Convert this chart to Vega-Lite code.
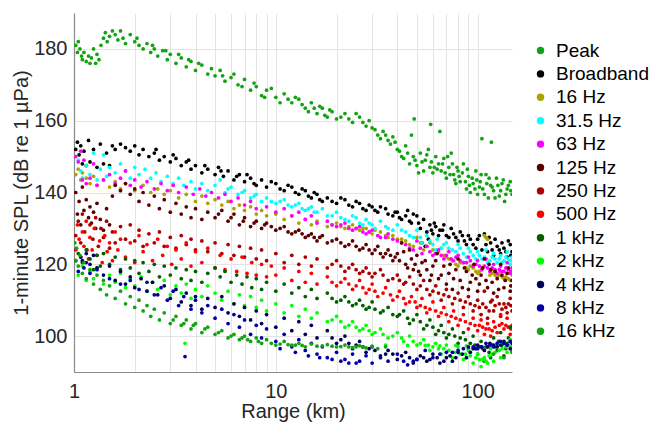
{
"$schema":"https://vega.github.io/schema/vega-lite/v6.json",
"width":438,"height":359,
"autosize":{"type":"none"},
"padding":{"left":74,"top":13,"right":145,"bottom":50},
"background":"white",
"config":{"view":{"stroke":null},"font":"Liberation Sans"},
"data":{"values":[
{"s":"Peak","r":1.02,"v":181},{"s":"Peak","r":1.04,"v":179},{"s":"Peak","r":1.05,"v":182},{"s":"Peak","r":1.07,"v":180},{"s":"Peak","r":1.09,"v":178},{"s":"Peak","r":1.1,"v":177},{"s":"Peak","r":1.12,"v":179},{"s":"Peak","r":1.15,"v":176.5},{"s":"Peak","r":1.18,"v":178},{"s":"Peak","r":1.2,"v":176},{"s":"Peak","r":1.22,"v":177.5},{"s":"Peak","r":1.25,"v":180},{"s":"Peak","r":1.28,"v":176},{"s":"Peak","r":1.3,"v":178.5},{"s":"Peak","r":1.33,"v":177},{"s":"Peak","r":1.36,"v":181},{"s":"Peak","r":1.4,"v":183},{"s":"Peak","r":1.43,"v":184.5},{"s":"Peak","r":1.46,"v":182},{"s":"Peak","r":1.5,"v":183.5},{"s":"Peak","r":1.55,"v":185},{"s":"Peak","r":1.6,"v":184},{"s":"Peak","r":1.65,"v":182.5},{"s":"Peak","r":1.7,"v":185},{"s":"Peak","r":1.75,"v":183},{"s":"Peak","r":1.8,"v":181.5},{"s":"Peak","r":1.9,"v":184},{"s":"Peak","r":2.0,"v":182},{"s":"Peak","r":2.1,"v":181},{"s":"Peak","r":2.2,"v":180},{"s":"Peak","r":2.3,"v":181.5},{"s":"Peak","r":2.4,"v":179},{"s":"Peak","r":2.5,"v":180},{"s":"Peak","r":2.6,"v":178},{"s":"Peak","r":2.75,"v":179.5},{"s":"Peak","r":2.9,"v":177},{"s":"Peak","r":3.0,"v":178.5},{"s":"Peak","r":3.2,"v":176},{"s":"Peak","r":3.4,"v":177.5},{"s":"Peak","r":3.6,"v":175},{"s":"Peak","r":3.8,"v":176.5},{"s":"Peak","r":4.0,"v":174},{"s":"Peak","r":4.3,"v":175.5},{"s":"Peak","r":4.6,"v":173},{"s":"Peak","r":5.0,"v":172.5},{"s":"Peak","r":5.3,"v":174},{"s":"Peak","r":5.6,"v":171},{"s":"Peak","r":6.0,"v":172},{"s":"Peak","r":6.5,"v":170},{"s":"Peak","r":7.0,"v":171.5},{"s":"Peak","r":7.5,"v":168.5},{"s":"Peak","r":8.0,"v":169.5},{"s":"Peak","r":8.5,"v":167},{"s":"Peak","r":9.0,"v":168.5},{"s":"Peak","r":10,"v":166.5},{"s":"Peak","r":11,"v":167.5},{"s":"Peak","r":12,"v":165},{"s":"Peak","r":13,"v":166},{"s":"Peak","r":14,"v":163.5},{"s":"Peak","r":15,"v":165},{"s":"Peak","r":16,"v":162},{"s":"Peak","r":17,"v":163.5},{"s":"Peak","r":18,"v":161},{"s":"Peak","r":19,"v":162.5},{"s":"Peak","r":20,"v":160.5},{"s":"Peak","r":22,"v":162},{"s":"Peak","r":24,"v":159.5},{"s":"Peak","r":26,"v":161},{"s":"Peak","r":28,"v":158.5},{"s":"Peak","r":30,"v":158},{"s":"Peak","r":32,"v":156},{"s":"Peak","r":34,"v":157},{"s":"Peak","r":36,"v":154.5},{"s":"Peak","r":38,"v":155.5},{"s":"Peak","r":40,"v":152},{"s":"Peak","r":42,"v":150},{"s":"Peak","r":44,"v":153},{"s":"Peak","r":46,"v":148},{"s":"Peak","r":47,"v":156},{"s":"Peak","r":48,"v":150},{"s":"Peak","r":48.5,"v":160.5},{"s":"Peak","r":50,"v":147.5},{"s":"Peak","r":52,"v":151},{"s":"Peak","r":54,"v":146},{"s":"Peak","r":55,"v":149},{"s":"Peak","r":57,"v":152},{"s":"Peak","r":58,"v":147},{"s":"Peak","r":58.5,"v":159},{"s":"Peak","r":60,"v":145.5},{"s":"Peak","r":62,"v":150},{"s":"Peak","r":64,"v":148},{"s":"Peak","r":65,"v":157},{"s":"Peak","r":66,"v":146},{"s":"Peak","r":68,"v":149.5},{"s":"Peak","r":70,"v":144},{"s":"Peak","r":72,"v":147},{"s":"Peak","r":74,"v":151},{"s":"Peak","r":76,"v":145},{"s":"Peak","r":78,"v":142.5},{"s":"Peak","r":80,"v":146},{"s":"Peak","r":82,"v":143},{"s":"Peak","r":85,"v":148},{"s":"Peak","r":88,"v":141},{"s":"Peak","r":90,"v":144.5},{"s":"Peak","r":92,"v":140},{"s":"Peak","r":95,"v":142.5},{"s":"Peak","r":98,"v":146},{"s":"Peak","r":100,"v":139.5},{"s":"Peak","r":103,"v":143},{"s":"Peak","r":105,"v":155},{"s":"Peak","r":106,"v":141},{"s":"Peak","r":110,"v":145},{"s":"Peak","r":113,"v":138.5},{"s":"Peak","r":116,"v":142},{"s":"Peak","r":117,"v":154},{"s":"Peak","r":120,"v":140.5},{"s":"Peak","r":124,"v":144},{"s":"Peak","r":128,"v":139},{"s":"Peak","r":132,"v":142.5},{"s":"Peak","r":136,"v":137.5},{"s":"Peak","r":140,"v":141},{"s":"Peak","r":145,"v":143},{"s":"Peak","r":148,"v":139.5},
{"s":"Peak","r":2.05,"v":183},{"s":"Peak","r":2.45,"v":181},{"s":"Peak","r":2.85,"v":179.5},{"s":"Peak","r":3.3,"v":178.5},{"s":"Peak","r":3.7,"v":177},{"s":"Peak","r":4.15,"v":176},{"s":"Peak","r":4.8,"v":174.5},{"s":"Peak","r":5.45,"v":172.5},{"s":"Peak","r":6.2,"v":173},{"s":"Peak","r":6.8,"v":169.5},{"s":"Peak","r":7.8,"v":170.5},{"s":"Peak","r":8.8,"v":166.5},{"s":"Peak","r":9.5,"v":169},{"s":"Peak","r":10.5,"v":165},{"s":"Peak","r":11.5,"v":166},{"s":"Peak","r":12.5,"v":166.5},{"s":"Peak","r":13.5,"v":164.5},{"s":"Peak","r":14.5,"v":162.5},{"s":"Peak","r":15.5,"v":163.5},{"s":"Peak","r":16.5,"v":164},{"s":"Peak","r":17.5,"v":161.5},{"s":"Peak","r":18.5,"v":163},{"s":"Peak","r":21,"v":161},{"s":"Peak","r":23,"v":160.5},{"s":"Peak","r":25,"v":162},{"s":"Peak","r":27,"v":159.5},{"s":"Peak","r":29,"v":160},{"s":"Peak","r":31,"v":157.5},{"s":"Peak","r":33,"v":155},{"s":"Peak","r":35,"v":156},{"s":"Peak","r":37,"v":153.5},{"s":"Peak","r":39,"v":154},{"s":"Peak","r":41,"v":151.5},{"s":"Peak","r":43,"v":149.5},{"s":"Peak","r":45,"v":151},{"s":"Peak","r":49,"v":149},{"s":"Peak","r":51,"v":145.5},{"s":"Peak","r":53,"v":148.5},{"s":"Peak","r":56,"v":150.5},{"s":"Peak","r":59,"v":148.5},{"s":"Peak","r":61,"v":147},{"s":"Peak","r":63,"v":146.5},{"s":"Peak","r":67,"v":148},{"s":"Peak","r":69,"v":145.5},{"s":"Peak","r":71,"v":150},{"s":"Peak","r":73,"v":145},{"s":"Peak","r":75,"v":148},{"s":"Peak","r":77,"v":143.5},{"s":"Peak","r":79,"v":147},{"s":"Peak","r":81,"v":144.5},{"s":"Peak","r":84,"v":145.5},{"s":"Peak","r":87,"v":143},{"s":"Peak","r":89,"v":146.5},{"s":"Peak","r":91,"v":142},{"s":"Peak","r":94,"v":144},{"s":"Peak","r":97,"v":141},{"s":"Peak","r":99,"v":143.5},{"s":"Peak","r":102,"v":141.5},{"s":"Peak","r":104,"v":145},{"s":"Peak","r":108,"v":139.5},{"s":"Peak","r":111,"v":142.5},{"s":"Peak","r":114,"v":144},{"s":"Peak","r":118,"v":141.5},{"s":"Peak","r":122,"v":138.5},{"s":"Peak","r":126,"v":142},{"s":"Peak","r":130,"v":140.5},{"s":"Peak","r":134,"v":143.5},{"s":"Peak","r":138,"v":139.5},{"s":"Peak","r":142,"v":142},{"s":"Peak","r":146,"v":140.5},
{"s":"Broadband","r":1.02,"v":152},{"s":"Broadband","r":1.04,"v":154},{"s":"Broadband","r":1.06,"v":150.5},{"s":"Broadband","r":1.08,"v":153},{"s":"Broadband","r":1.1,"v":148},{"s":"Broadband","r":1.12,"v":151.5},{"s":"Broadband","r":1.15,"v":147.5},{"s":"Broadband","r":1.18,"v":154.5},{"s":"Broadband","r":1.2,"v":148.5},{"s":"Broadband","r":1.25,"v":152},{"s":"Broadband","r":1.3,"v":147},{"s":"Broadband","r":1.35,"v":153.5},{"s":"Broadband","r":1.4,"v":148},{"s":"Broadband","r":1.45,"v":151},{"s":"Broadband","r":1.5,"v":147.5},{"s":"Broadband","r":1.55,"v":153},{"s":"Broadband","r":1.6,"v":152},{"s":"Broadband","r":1.7,"v":153.5},{"s":"Broadband","r":1.8,"v":152.5},{"s":"Broadband","r":1.9,"v":151.5},{"s":"Broadband","r":2.0,"v":153},{"s":"Broadband","r":2.1,"v":150.5},{"s":"Broadband","r":2.2,"v":152},{"s":"Broadband","r":2.35,"v":150},{"s":"Broadband","r":2.5,"v":151},{"s":"Broadband","r":2.65,"v":149},{"s":"Broadband","r":2.8,"v":150},{"s":"Broadband","r":3.0,"v":148.5},{"s":"Broadband","r":3.2,"v":149.5},{"s":"Broadband","r":3.4,"v":147.5},{"s":"Broadband","r":3.6,"v":148.5},{"s":"Broadband","r":3.8,"v":146.5},{"s":"Broadband","r":4.0,"v":147.5},{"s":"Broadband","r":4.3,"v":145.5},{"s":"Broadband","r":4.6,"v":146.5},{"s":"Broadband","r":5.0,"v":145},{"s":"Broadband","r":5.2,"v":147},{"s":"Broadband","r":5.5,"v":144.5},{"s":"Broadband","r":5.8,"v":146},{"s":"Broadband","r":6.2,"v":143.5},{"s":"Broadband","r":6.6,"v":145},{"s":"Broadband","r":7.0,"v":143},{"s":"Broadband","r":7.5,"v":144},{"s":"Broadband","r":8.0,"v":142},{"s":"Broadband","r":8.5,"v":143.5},{"s":"Broadband","r":9.0,"v":141.5},{"s":"Broadband","r":10,"v":142.5},{"s":"Broadband","r":11,"v":140.5},{"s":"Broadband","r":12,"v":141.5},{"s":"Broadband","r":13,"v":139.5},{"s":"Broadband","r":14,"v":140.5},{"s":"Broadband","r":15,"v":138.5},{"s":"Broadband","r":16,"v":139.5},{"s":"Broadband","r":17,"v":137.5},{"s":"Broadband","r":18,"v":138.5},{"s":"Broadband","r":20,"v":137},{"s":"Broadband","r":22,"v":138},{"s":"Broadband","r":24,"v":136},{"s":"Broadband","r":26,"v":137},{"s":"Broadband","r":28,"v":135},{"s":"Broadband","r":30,"v":136},{"s":"Broadband","r":32,"v":134.5},{"s":"Broadband","r":35,"v":135.5},{"s":"Broadband","r":38,"v":133.5},{"s":"Broadband","r":40,"v":134.5},{"s":"Broadband","r":42,"v":132.5},{"s":"Broadband","r":45,"v":135},{"s":"Broadband","r":47,"v":131.5},{"s":"Broadband","r":50,"v":133.5},{"s":"Broadband","r":52,"v":130},{"s":"Broadband","r":53,"v":126},{"s":"Broadband","r":54,"v":132.5},{"s":"Broadband","r":55,"v":125},{"s":"Broadband","r":56,"v":129},{"s":"Broadband","r":57,"v":127},{"s":"Broadband","r":58,"v":131},{"s":"Broadband","r":60,"v":128.5},{"s":"Broadband","r":62,"v":130.5},{"s":"Broadband","r":65,"v":129.5},{"s":"Broadband","r":68,"v":131},{"s":"Broadband","r":70,"v":128},{"s":"Broadband","r":74,"v":130},{"s":"Broadband","r":78,"v":127.5},{"s":"Broadband","r":82,"v":129},{"s":"Broadband","r":86,"v":126.5},{"s":"Broadband","r":90,"v":128},{"s":"Broadband","r":95,"v":125.5},{"s":"Broadband","r":100,"v":127},{"s":"Broadband","r":105,"v":124},{"s":"Broadband","r":108,"v":128.5},{"s":"Broadband","r":112,"v":123.5},{"s":"Broadband","r":116,"v":126},{"s":"Broadband","r":120,"v":122.5},{"s":"Broadband","r":125,"v":125},{"s":"Broadband","r":130,"v":123},{"s":"Broadband","r":135,"v":124.5},{"s":"Broadband","r":140,"v":122},{"s":"Broadband","r":145,"v":125.5},{"s":"Broadband","r":148,"v":123.5},
{"s":"Broadband","r":2.55,"v":152},{"s":"Broadband","r":3.1,"v":150.5},{"s":"Broadband","r":3.7,"v":149},{"s":"Broadband","r":4.45,"v":147.5},{"s":"Broadband","r":5.35,"v":146},{"s":"Broadband","r":6.4,"v":144.5},{"s":"Broadband","r":7.2,"v":145},{"s":"Broadband","r":7.8,"v":142.5},{"s":"Broadband","r":9.5,"v":143},{"s":"Broadband","r":10.5,"v":141},{"s":"Broadband","r":11.5,"v":142},{"s":"Broadband","r":12.5,"v":140},{"s":"Broadband","r":13.5,"v":141},{"s":"Broadband","r":14.5,"v":139},{"s":"Broadband","r":15.5,"v":140},{"s":"Broadband","r":16.5,"v":138},{"s":"Broadband","r":19,"v":137.5},{"s":"Broadband","r":21,"v":138.5},{"s":"Broadband","r":23,"v":136.5},{"s":"Broadband","r":25,"v":137.5},{"s":"Broadband","r":27,"v":135.5},{"s":"Broadband","r":29,"v":136.5},{"s":"Broadband","r":31,"v":135},{"s":"Broadband","r":33,"v":136},{"s":"Broadband","r":36,"v":134},{"s":"Broadband","r":39,"v":134.5},{"s":"Broadband","r":41,"v":133},{"s":"Broadband","r":44,"v":133.5},{"s":"Broadband","r":46,"v":132},{"s":"Broadband","r":48,"v":134},{"s":"Broadband","r":51,"v":131.5},{"s":"Broadband","r":59,"v":129.5},{"s":"Broadband","r":61,"v":131.5},{"s":"Broadband","r":64,"v":128},{"s":"Broadband","r":67,"v":129.5},{"s":"Broadband","r":72,"v":127.5},{"s":"Broadband","r":76,"v":128.5},{"s":"Broadband","r":80,"v":126.5},{"s":"Broadband","r":84,"v":128},{"s":"Broadband","r":88,"v":125.5},{"s":"Broadband","r":92,"v":127},{"s":"Broadband","r":98,"v":124.5},{"s":"Broadband","r":102,"v":128},{"s":"Broadband","r":110,"v":125.5},{"s":"Broadband","r":114,"v":127.5},{"s":"Broadband","r":118,"v":124},{"s":"Broadband","r":122,"v":127},{"s":"Broadband","r":128,"v":124},{"s":"Broadband","r":132,"v":126},{"s":"Broadband","r":138,"v":123.5},{"s":"Broadband","r":142,"v":126.5},{"s":"Broadband","r":146,"v":122.5},
{"s":"16 Hz","r":1.02,"v":145},{"s":"16 Hz","r":1.05,"v":146.5},{"s":"16 Hz","r":1.08,"v":143.5},{"s":"16 Hz","r":1.1,"v":145.5},{"s":"16 Hz","r":1.15,"v":144},{"s":"16 Hz","r":1.2,"v":142.5},{"s":"16 Hz","r":1.25,"v":144.5},{"s":"16 Hz","r":1.3,"v":142},{"s":"16 Hz","r":1.4,"v":143.5},{"s":"16 Hz","r":1.5,"v":141.5},{"s":"16 Hz","r":1.6,"v":143},{"s":"16 Hz","r":1.7,"v":141},{"s":"16 Hz","r":1.8,"v":142.5},{"s":"16 Hz","r":2.0,"v":140.5},{"s":"16 Hz","r":2.2,"v":142},{"s":"16 Hz","r":2.4,"v":140},{"s":"16 Hz","r":2.6,"v":141},{"s":"16 Hz","r":2.8,"v":139.5},{"s":"16 Hz","r":3.0,"v":140.5},{"s":"16 Hz","r":3.3,"v":138.5},{"s":"16 Hz","r":3.6,"v":139.5},{"s":"16 Hz","r":4.0,"v":137.5},{"s":"16 Hz","r":4.3,"v":139},{"s":"16 Hz","r":4.6,"v":137},{"s":"16 Hz","r":5.0,"v":138},{"s":"16 Hz","r":5.4,"v":136.5},{"s":"16 Hz","r":5.8,"v":137.5},{"s":"16 Hz","r":6.2,"v":135.5},{"s":"16 Hz","r":6.6,"v":136.5},{"s":"16 Hz","r":7.0,"v":135},{"s":"16 Hz","r":7.5,"v":136},{"s":"16 Hz","r":8.0,"v":134},{"s":"16 Hz","r":8.5,"v":135},{"s":"16 Hz","r":9.0,"v":133.5},{"s":"16 Hz","r":10,"v":134},{"s":"16 Hz","r":11,"v":132.5},{"s":"16 Hz","r":12,"v":133.5},{"s":"16 Hz","r":13,"v":131.5},{"s":"16 Hz","r":14,"v":132.5},{"s":"16 Hz","r":15,"v":131},{"s":"16 Hz","r":16,"v":132},{"s":"16 Hz","r":18,"v":130.5},{"s":"16 Hz","r":20,"v":131.5},{"s":"16 Hz","r":22,"v":130},{"s":"16 Hz","r":24,"v":131},{"s":"16 Hz","r":26,"v":129.5},{"s":"16 Hz","r":28,"v":130},{"s":"16 Hz","r":30,"v":128.5},{"s":"16 Hz","r":33,"v":129},{"s":"16 Hz","r":36,"v":127.5},{"s":"16 Hz","r":40,"v":127},{"s":"16 Hz","r":44,"v":126.5},{"s":"16 Hz","r":48,"v":125},{"s":"16 Hz","r":50,"v":127.5},{"s":"16 Hz","r":54,"v":124},{"s":"16 Hz","r":58,"v":126},{"s":"16 Hz","r":62,"v":123},{"s":"16 Hz","r":66,"v":124.5},{"s":"16 Hz","r":70,"v":122},{"s":"16 Hz","r":75,"v":121},{"s":"16 Hz","r":80,"v":119.5},{"s":"16 Hz","r":85,"v":120.5},{"s":"16 Hz","r":90,"v":118.5},{"s":"16 Hz","r":95,"v":119},{"s":"16 Hz","r":100,"v":117.5},{"s":"16 Hz","r":105,"v":119},{"s":"16 Hz","r":108,"v":128},{"s":"16 Hz","r":110,"v":127.5},{"s":"16 Hz","r":112,"v":127},{"s":"16 Hz","r":115,"v":117},{"s":"16 Hz","r":120,"v":118.5},{"s":"16 Hz","r":125,"v":116.5},{"s":"16 Hz","r":130,"v":118},{"s":"16 Hz","r":135,"v":116},{"s":"16 Hz","r":140,"v":117.5},{"s":"16 Hz","r":145,"v":115.5},{"s":"16 Hz","r":148,"v":117},
{"s":"16 Hz","r":19,"v":131},{"s":"16 Hz","r":21,"v":130.5},{"s":"16 Hz","r":23,"v":130.5},{"s":"16 Hz","r":25,"v":130},{"s":"16 Hz","r":27,"v":130},{"s":"16 Hz","r":29,"v":129},{"s":"16 Hz","r":31,"v":129.5},{"s":"16 Hz","r":35,"v":128},{"s":"16 Hz","r":38,"v":128},{"s":"16 Hz","r":42,"v":127},{"s":"16 Hz","r":46,"v":125.5},{"s":"16 Hz","r":52,"v":126},{"s":"16 Hz","r":56,"v":125},{"s":"16 Hz","r":60,"v":124},{"s":"16 Hz","r":64,"v":123.5},{"s":"16 Hz","r":68,"v":122.5},{"s":"16 Hz","r":72,"v":121.5},{"s":"16 Hz","r":78,"v":120},{"s":"16 Hz","r":82,"v":120.5},{"s":"16 Hz","r":88,"v":119},{"s":"16 Hz","r":92,"v":119.5},{"s":"16 Hz","r":98,"v":118},{"s":"16 Hz","r":102,"v":118},{"s":"16 Hz","r":118,"v":117.5},{"s":"16 Hz","r":122,"v":117},{"s":"16 Hz","r":128,"v":117},{"s":"16 Hz","r":132,"v":116.5},{"s":"16 Hz","r":138,"v":116.5},{"s":"16 Hz","r":142,"v":116},
{"s":"31.5 Hz","r":1.05,"v":149},{"s":"31.5 Hz","r":1.08,"v":146},{"s":"31.5 Hz","r":1.1,"v":144},{"s":"31.5 Hz","r":1.15,"v":147.5},{"s":"31.5 Hz","r":1.2,"v":145},{"s":"31.5 Hz","r":1.25,"v":151},{"s":"31.5 Hz","r":1.3,"v":143.5},{"s":"31.5 Hz","r":1.35,"v":146.5},{"s":"31.5 Hz","r":1.4,"v":150.5},{"s":"31.5 Hz","r":1.45,"v":144.5},{"s":"31.5 Hz","r":1.5,"v":147},{"s":"31.5 Hz","r":1.6,"v":145.5},{"s":"31.5 Hz","r":1.7,"v":148},{"s":"31.5 Hz","r":1.8,"v":146},{"s":"31.5 Hz","r":1.9,"v":144},{"s":"31.5 Hz","r":2.0,"v":147},{"s":"31.5 Hz","r":2.1,"v":145},{"s":"31.5 Hz","r":2.25,"v":146.5},{"s":"31.5 Hz","r":2.4,"v":144},{"s":"31.5 Hz","r":2.55,"v":145.5},{"s":"31.5 Hz","r":2.7,"v":143},{"s":"31.5 Hz","r":2.9,"v":144.5},{"s":"31.5 Hz","r":3.1,"v":142.5},{"s":"31.5 Hz","r":3.3,"v":144},{"s":"31.5 Hz","r":3.5,"v":142},{"s":"31.5 Hz","r":3.8,"v":143},{"s":"31.5 Hz","r":4.0,"v":141},{"s":"31.5 Hz","r":4.3,"v":142.5},{"s":"31.5 Hz","r":4.6,"v":140.5},{"s":"31.5 Hz","r":5.0,"v":142},{"s":"31.5 Hz","r":5.3,"v":143.5},{"s":"31.5 Hz","r":5.6,"v":140},{"s":"31.5 Hz","r":6.0,"v":141.5},{"s":"31.5 Hz","r":6.5,"v":139.5},{"s":"31.5 Hz","r":7.0,"v":140.5},{"s":"31.5 Hz","r":7.5,"v":138.5},{"s":"31.5 Hz","r":8.0,"v":139.5},{"s":"31.5 Hz","r":8.5,"v":137.5},{"s":"31.5 Hz","r":9.0,"v":138.5},{"s":"31.5 Hz","r":10,"v":137},{"s":"31.5 Hz","r":11,"v":138},{"s":"31.5 Hz","r":12,"v":136},{"s":"31.5 Hz","r":13,"v":137},{"s":"31.5 Hz","r":14,"v":135},{"s":"31.5 Hz","r":15,"v":136},{"s":"31.5 Hz","r":16,"v":134.5},{"s":"31.5 Hz","r":17,"v":135.5},{"s":"31.5 Hz","r":18,"v":133.5},{"s":"31.5 Hz","r":20,"v":134.5},{"s":"31.5 Hz","r":22,"v":132.5},{"s":"31.5 Hz","r":24,"v":133.5},{"s":"31.5 Hz","r":26,"v":131.5},{"s":"31.5 Hz","r":28,"v":132.5},{"s":"31.5 Hz","r":30,"v":131},{"s":"31.5 Hz","r":33,"v":132},{"s":"31.5 Hz","r":36,"v":130},{"s":"31.5 Hz","r":40,"v":131},{"s":"31.5 Hz","r":44,"v":129},{"s":"31.5 Hz","r":48,"v":127.5},{"s":"31.5 Hz","r":50,"v":129.5},{"s":"31.5 Hz","r":53,"v":126},{"s":"31.5 Hz","r":56,"v":128},{"s":"31.5 Hz","r":60,"v":125.5},{"s":"31.5 Hz","r":63,"v":127},{"s":"31.5 Hz","r":66,"v":124.5},{"s":"31.5 Hz","r":70,"v":126},{"s":"31.5 Hz","r":75,"v":124},{"s":"31.5 Hz","r":80,"v":125.5},{"s":"31.5 Hz","r":85,"v":123},{"s":"31.5 Hz","r":90,"v":124.5},{"s":"31.5 Hz","r":95,"v":122.5},{"s":"31.5 Hz","r":100,"v":123.5},{"s":"31.5 Hz","r":105,"v":121.5},{"s":"31.5 Hz","r":110,"v":124},{"s":"31.5 Hz","r":115,"v":121},{"s":"31.5 Hz","r":120,"v":123},{"s":"31.5 Hz","r":125,"v":120.5},{"s":"31.5 Hz","r":130,"v":122.5},{"s":"31.5 Hz","r":135,"v":121},{"s":"31.5 Hz","r":140,"v":123.5},{"s":"31.5 Hz","r":145,"v":120},{"s":"31.5 Hz","r":148,"v":122},
{"s":"31.5 Hz","r":5.8,"v":141},{"s":"31.5 Hz","r":6.8,"v":140},{"s":"31.5 Hz","r":7.8,"v":139},{"s":"31.5 Hz","r":9.5,"v":137.5},{"s":"31.5 Hz","r":10.5,"v":137.5},{"s":"31.5 Hz","r":11.5,"v":136.5},{"s":"31.5 Hz","r":12.5,"v":136.5},{"s":"31.5 Hz","r":13.5,"v":135.5},{"s":"31.5 Hz","r":14.5,"v":135.5},{"s":"31.5 Hz","r":15.5,"v":134.5},{"s":"31.5 Hz","r":19,"v":133.5},{"s":"31.5 Hz","r":21,"v":133},{"s":"31.5 Hz","r":23,"v":132},{"s":"31.5 Hz","r":25,"v":133},{"s":"31.5 Hz","r":27,"v":131},{"s":"31.5 Hz","r":29,"v":131.5},{"s":"31.5 Hz","r":31,"v":130},{"s":"31.5 Hz","r":35,"v":130.5},{"s":"31.5 Hz","r":38,"v":129.5},{"s":"31.5 Hz","r":42,"v":129.5},{"s":"31.5 Hz","r":46,"v":128},{"s":"31.5 Hz","r":52,"v":127.5},{"s":"31.5 Hz","r":58,"v":126.5},{"s":"31.5 Hz","r":62,"v":124},{"s":"31.5 Hz","r":68,"v":125.5},{"s":"31.5 Hz","r":72,"v":124.5},{"s":"31.5 Hz","r":78,"v":123.5},{"s":"31.5 Hz","r":82,"v":124.5},{"s":"31.5 Hz","r":88,"v":122},{"s":"31.5 Hz","r":92,"v":123.5},{"s":"31.5 Hz","r":98,"v":121.5},{"s":"31.5 Hz","r":102,"v":122.5},{"s":"31.5 Hz","r":108,"v":122},{"s":"31.5 Hz","r":112,"v":120.5},{"s":"31.5 Hz","r":118,"v":122},{"s":"31.5 Hz","r":122,"v":121.5},{"s":"31.5 Hz","r":128,"v":121.5},{"s":"31.5 Hz","r":132,"v":120.5},{"s":"31.5 Hz","r":138,"v":122},{"s":"31.5 Hz","r":142,"v":121.5},{"s":"31.5 Hz","r":146,"v":121},
{"s":"63 Hz","r":1.02,"v":150},{"s":"63 Hz","r":1.05,"v":148.5},{"s":"63 Hz","r":1.08,"v":151.5},{"s":"63 Hz","r":1.1,"v":143.5},{"s":"63 Hz","r":1.12,"v":149},{"s":"63 Hz","r":1.15,"v":142.5},{"s":"63 Hz","r":1.2,"v":144},{"s":"63 Hz","r":1.25,"v":148},{"s":"63 Hz","r":1.3,"v":142},{"s":"63 Hz","r":1.4,"v":143.5},{"s":"63 Hz","r":1.5,"v":145},{"s":"63 Hz","r":1.6,"v":142.5},{"s":"63 Hz","r":1.7,"v":144},{"s":"63 Hz","r":1.8,"v":146},{"s":"63 Hz","r":1.9,"v":142},{"s":"63 Hz","r":2.0,"v":143.5},{"s":"63 Hz","r":2.15,"v":141.5},{"s":"63 Hz","r":2.3,"v":143},{"s":"63 Hz","r":2.5,"v":141},{"s":"63 Hz","r":2.7,"v":142.5},{"s":"63 Hz","r":2.9,"v":140.5},{"s":"63 Hz","r":3.1,"v":142},{"s":"63 Hz","r":3.3,"v":140},{"s":"63 Hz","r":3.6,"v":141.5},{"s":"63 Hz","r":3.9,"v":139.5},{"s":"63 Hz","r":4.2,"v":141},{"s":"63 Hz","r":4.5,"v":139},{"s":"63 Hz","r":4.8,"v":140},{"s":"63 Hz","r":5.2,"v":138.5},{"s":"63 Hz","r":5.6,"v":139.5},{"s":"63 Hz","r":6.0,"v":137.5},{"s":"63 Hz","r":6.5,"v":138.5},{"s":"63 Hz","r":7.0,"v":136.5},{"s":"63 Hz","r":7.5,"v":137.5},{"s":"63 Hz","r":8.0,"v":135.5},{"s":"63 Hz","r":9.0,"v":136},{"s":"63 Hz","r":10,"v":134.5},{"s":"63 Hz","r":11,"v":135.5},{"s":"63 Hz","r":12,"v":133.5},{"s":"63 Hz","r":13,"v":134.5},{"s":"63 Hz","r":14,"v":132.5},{"s":"63 Hz","r":15,"v":133.5},{"s":"63 Hz","r":16,"v":131.5},{"s":"63 Hz","r":18,"v":132},{"s":"63 Hz","r":20,"v":130.5},{"s":"63 Hz","r":22,"v":131.5},{"s":"63 Hz","r":24,"v":129.5},{"s":"63 Hz","r":26,"v":130.5},{"s":"63 Hz","r":28,"v":128.5},{"s":"63 Hz","r":30,"v":129.5},{"s":"63 Hz","r":33,"v":127.5},{"s":"63 Hz","r":36,"v":128.5},{"s":"63 Hz","r":40,"v":126.5},{"s":"63 Hz","r":44,"v":125.5},{"s":"63 Hz","r":48,"v":124},{"s":"63 Hz","r":50,"v":126.5},{"s":"63 Hz","r":53,"v":123},{"s":"63 Hz","r":56,"v":125},{"s":"63 Hz","r":60,"v":122.5},{"s":"63 Hz","r":64,"v":124},{"s":"63 Hz","r":68,"v":121.5},{"s":"63 Hz","r":72,"v":123.5},{"s":"63 Hz","r":76,"v":121},{"s":"63 Hz","r":80,"v":122.5},{"s":"63 Hz","r":85,"v":120.5},{"s":"63 Hz","r":90,"v":122},{"s":"63 Hz","r":95,"v":119.5},{"s":"63 Hz","r":100,"v":121},{"s":"63 Hz","r":105,"v":118.5},{"s":"63 Hz","r":110,"v":121.5},{"s":"63 Hz","r":115,"v":118},{"s":"63 Hz","r":120,"v":120},{"s":"63 Hz","r":125,"v":117.5},{"s":"63 Hz","r":130,"v":119.5},{"s":"63 Hz","r":135,"v":118},{"s":"63 Hz","r":140,"v":120.5},{"s":"63 Hz","r":145,"v":117.5},{"s":"63 Hz","r":148,"v":119},
{"s":"63 Hz","r":19,"v":131},{"s":"63 Hz","r":21,"v":131},{"s":"63 Hz","r":23,"v":130},{"s":"63 Hz","r":25,"v":130},{"s":"63 Hz","r":27,"v":129},{"s":"63 Hz","r":29,"v":129},{"s":"63 Hz","r":32,"v":128},{"s":"63 Hz","r":35,"v":127.5},{"s":"63 Hz","r":38,"v":127},{"s":"63 Hz","r":42,"v":126},{"s":"63 Hz","r":46,"v":124.5},{"s":"63 Hz","r":52,"v":124.5},{"s":"63 Hz","r":58,"v":123.5},{"s":"63 Hz","r":62,"v":123},{"s":"63 Hz","r":66,"v":122.5},{"s":"63 Hz","r":70,"v":122.5},{"s":"63 Hz","r":74,"v":121.5},{"s":"63 Hz","r":78,"v":122},{"s":"63 Hz","r":82,"v":121},{"s":"63 Hz","r":88,"v":120.5},{"s":"63 Hz","r":92,"v":121},{"s":"63 Hz","r":98,"v":120},{"s":"63 Hz","r":102,"v":119.5},{"s":"63 Hz","r":108,"v":119.5},{"s":"63 Hz","r":112,"v":119},{"s":"63 Hz","r":118,"v":119},{"s":"63 Hz","r":122,"v":118.5},{"s":"63 Hz","r":128,"v":118.5},{"s":"63 Hz","r":132,"v":118},{"s":"63 Hz","r":138,"v":119},{"s":"63 Hz","r":142,"v":118.5},{"s":"63 Hz","r":146,"v":118},
{"s":"125 Hz","r":1.02,"v":140},{"s":"125 Hz","r":1.04,"v":134},{"s":"125 Hz","r":1.06,"v":137.5},{"s":"125 Hz","r":1.08,"v":131},{"s":"125 Hz","r":1.1,"v":141.5},{"s":"125 Hz","r":1.12,"v":135},{"s":"125 Hz","r":1.15,"v":138},{"s":"125 Hz","r":1.18,"v":133},{"s":"125 Hz","r":1.2,"v":136},{"s":"125 Hz","r":1.22,"v":131.5},{"s":"125 Hz","r":1.25,"v":134.5},{"s":"125 Hz","r":1.28,"v":130},{"s":"125 Hz","r":1.3,"v":137},{"s":"125 Hz","r":1.35,"v":132.5},{"s":"125 Hz","r":1.4,"v":129.5},{"s":"125 Hz","r":1.45,"v":135.5},{"s":"125 Hz","r":1.5,"v":131},{"s":"125 Hz","r":1.55,"v":139},{"s":"125 Hz","r":1.6,"v":142},{"s":"125 Hz","r":1.7,"v":140.5},{"s":"125 Hz","r":1.8,"v":142.5},{"s":"125 Hz","r":1.9,"v":139.5},{"s":"125 Hz","r":2.0,"v":141},{"s":"125 Hz","r":2.1,"v":137.5},{"s":"125 Hz","r":2.2,"v":140},{"s":"125 Hz","r":2.35,"v":136.5},{"s":"125 Hz","r":2.5,"v":139},{"s":"125 Hz","r":2.65,"v":135.5},{"s":"125 Hz","r":2.8,"v":138},{"s":"125 Hz","r":3.0,"v":134.5},{"s":"125 Hz","r":3.2,"v":137},{"s":"125 Hz","r":3.4,"v":134},{"s":"125 Hz","r":3.6,"v":136},{"s":"125 Hz","r":3.8,"v":133},{"s":"125 Hz","r":4.0,"v":135.5},{"s":"125 Hz","r":4.3,"v":132.5},{"s":"125 Hz","r":4.6,"v":134.5},{"s":"125 Hz","r":5.0,"v":133},{"s":"125 Hz","r":5.4,"v":135},{"s":"125 Hz","r":5.8,"v":132},{"s":"125 Hz","r":6.2,"v":134},{"s":"125 Hz","r":6.6,"v":131},{"s":"125 Hz","r":7.0,"v":133},{"s":"125 Hz","r":7.5,"v":130.5},{"s":"125 Hz","r":8.0,"v":132},{"s":"125 Hz","r":8.5,"v":130},{"s":"125 Hz","r":9.0,"v":131.5},{"s":"125 Hz","r":10,"v":129.5},{"s":"125 Hz","r":11,"v":130.5},{"s":"125 Hz","r":12,"v":128.5},{"s":"125 Hz","r":13,"v":129.5},{"s":"125 Hz","r":14,"v":127.5},{"s":"125 Hz","r":15,"v":128.5},{"s":"125 Hz","r":16,"v":126.5},{"s":"125 Hz","r":17,"v":128},{"s":"125 Hz","r":18,"v":126},{"s":"125 Hz","r":20,"v":127},{"s":"125 Hz","r":22,"v":125},{"s":"125 Hz","r":24,"v":126.5},{"s":"125 Hz","r":26,"v":124},{"s":"125 Hz","r":28,"v":125.5},{"s":"125 Hz","r":30,"v":123},{"s":"125 Hz","r":32,"v":125},{"s":"125 Hz","r":34,"v":122},{"s":"125 Hz","r":36,"v":124},{"s":"125 Hz","r":38,"v":121},{"s":"125 Hz","r":40,"v":123},{"s":"125 Hz","r":42,"v":126},{"s":"125 Hz","r":44,"v":120},{"s":"125 Hz","r":46,"v":124},{"s":"125 Hz","r":48,"v":118.5},{"s":"125 Hz","r":50,"v":122.5},{"s":"125 Hz","r":52,"v":117},{"s":"125 Hz","r":55,"v":121},{"s":"125 Hz","r":58,"v":115.5},{"s":"125 Hz","r":60,"v":119.5},{"s":"125 Hz","r":63,"v":123},{"s":"125 Hz","r":66,"v":117},{"s":"125 Hz","r":70,"v":114.5},{"s":"125 Hz","r":73,"v":120},{"s":"125 Hz","r":76,"v":116},{"s":"125 Hz","r":80,"v":121.5},{"s":"125 Hz","r":84,"v":113.5},{"s":"125 Hz","r":88,"v":118},{"s":"125 Hz","r":92,"v":115},{"s":"125 Hz","r":96,"v":120},{"s":"125 Hz","r":100,"v":112.5},{"s":"125 Hz","r":104,"v":117},{"s":"125 Hz","r":108,"v":121.5},{"s":"125 Hz","r":112,"v":113.5},{"s":"125 Hz","r":116,"v":118.5},{"s":"125 Hz","r":120,"v":112},{"s":"125 Hz","r":125,"v":116},{"s":"125 Hz","r":130,"v":120},{"s":"125 Hz","r":135,"v":113.5},{"s":"125 Hz","r":140,"v":117.5},{"s":"125 Hz","r":145,"v":112.5},{"s":"125 Hz","r":148,"v":115.5},
{"s":"125 Hz","r":5.2,"v":134},{"s":"125 Hz","r":6.0,"v":133},{"s":"125 Hz","r":6.9,"v":132},{"s":"125 Hz","r":7.8,"v":131.5},{"s":"125 Hz","r":8.8,"v":131},{"s":"125 Hz","r":9.5,"v":130.5},{"s":"125 Hz","r":10.5,"v":130},{"s":"125 Hz","r":11.5,"v":129},{"s":"125 Hz","r":12.5,"v":129},{"s":"125 Hz","r":13.5,"v":128.5},{"s":"125 Hz","r":14.5,"v":128},{"s":"125 Hz","r":15.5,"v":127.5},{"s":"125 Hz","r":16.5,"v":127.5},{"s":"125 Hz","r":19,"v":126.5},{"s":"125 Hz","r":21,"v":126},{"s":"125 Hz","r":23,"v":125.5},{"s":"125 Hz","r":25,"v":125},{"s":"125 Hz","r":27,"v":124.5},{"s":"125 Hz","r":29,"v":124},{"s":"125 Hz","r":31,"v":124},{"s":"125 Hz","r":33,"v":123},{"s":"125 Hz","r":35,"v":123},{"s":"125 Hz","r":37,"v":122.5},{"s":"125 Hz","r":39,"v":122},{"s":"125 Hz","r":41,"v":121},{"s":"125 Hz","r":43,"v":123.5},{"s":"125 Hz","r":45,"v":119},{"s":"125 Hz","r":47,"v":121.5},{"s":"125 Hz","r":49,"v":120},{"s":"125 Hz","r":51,"v":118},{"s":"125 Hz","r":53,"v":120.5},{"s":"125 Hz","r":56,"v":118.5},{"s":"125 Hz","r":59,"v":117},{"s":"125 Hz","r":62,"v":121},{"s":"125 Hz","r":64,"v":116},{"s":"125 Hz","r":68,"v":119.5},{"s":"125 Hz","r":72,"v":117.5},{"s":"125 Hz","r":75,"v":113},{"s":"125 Hz","r":78,"v":118.5},{"s":"125 Hz","r":82,"v":115.5},{"s":"125 Hz","r":86,"v":119},{"s":"125 Hz","r":90,"v":113},{"s":"125 Hz","r":94,"v":117},{"s":"125 Hz","r":98,"v":116},{"s":"125 Hz","r":102,"v":114.5},{"s":"125 Hz","r":106,"v":119},{"s":"125 Hz","r":110,"v":115.5},{"s":"125 Hz","r":114,"v":120},{"s":"125 Hz","r":118,"v":115},{"s":"125 Hz","r":122,"v":118},{"s":"125 Hz","r":127,"v":113},{"s":"125 Hz","r":132,"v":117},{"s":"125 Hz","r":137,"v":115.5},{"s":"125 Hz","r":142,"v":119},{"s":"125 Hz","r":146,"v":114},
{"s":"250 Hz","r":1.02,"v":128},{"s":"250 Hz","r":1.05,"v":132},{"s":"250 Hz","r":1.08,"v":126},{"s":"250 Hz","r":1.1,"v":134},{"s":"250 Hz","r":1.13,"v":129},{"s":"250 Hz","r":1.16,"v":124},{"s":"250 Hz","r":1.2,"v":131},{"s":"250 Hz","r":1.24,"v":127},{"s":"250 Hz","r":1.28,"v":133},{"s":"250 Hz","r":1.32,"v":125},{"s":"250 Hz","r":1.36,"v":130},{"s":"250 Hz","r":1.4,"v":127.5},{"s":"250 Hz","r":1.45,"v":132},{"s":"250 Hz","r":1.5,"v":124.5},{"s":"250 Hz","r":1.55,"v":129},{"s":"250 Hz","r":1.6,"v":126},{"s":"250 Hz","r":1.7,"v":130.5},{"s":"250 Hz","r":1.8,"v":127},{"s":"250 Hz","r":1.9,"v":131},{"s":"250 Hz","r":2.0,"v":126.5},{"s":"250 Hz","r":2.1,"v":129.5},{"s":"250 Hz","r":2.2,"v":125},{"s":"250 Hz","r":2.35,"v":128.5},{"s":"250 Hz","r":2.5,"v":126},{"s":"250 Hz","r":2.65,"v":129},{"s":"250 Hz","r":2.8,"v":125},{"s":"250 Hz","r":3.0,"v":127.5},{"s":"250 Hz","r":3.2,"v":124.5},{"s":"250 Hz","r":3.4,"v":128},{"s":"250 Hz","r":3.6,"v":125.5},{"s":"250 Hz","r":3.8,"v":127},{"s":"250 Hz","r":4.0,"v":124},{"s":"250 Hz","r":4.3,"v":126.5},{"s":"250 Hz","r":4.6,"v":123.5},{"s":"250 Hz","r":5.0,"v":126},{"s":"250 Hz","r":5.4,"v":123},{"s":"250 Hz","r":5.8,"v":125.5},{"s":"250 Hz","r":6.2,"v":122.5},{"s":"250 Hz","r":6.6,"v":125},{"s":"250 Hz","r":7.0,"v":122},{"s":"250 Hz","r":7.5,"v":124.5},{"s":"250 Hz","r":8.0,"v":121.5},{"s":"250 Hz","r":8.5,"v":124},{"s":"250 Hz","r":9.0,"v":121},{"s":"250 Hz","r":10,"v":123},{"s":"250 Hz","r":11,"v":120.5},{"s":"250 Hz","r":12,"v":122.5},{"s":"250 Hz","r":13,"v":120},{"s":"250 Hz","r":14,"v":122},{"s":"250 Hz","r":15,"v":119.5},{"s":"250 Hz","r":16,"v":121.5},{"s":"250 Hz","r":18,"v":119},{"s":"250 Hz","r":20,"v":121},{"s":"250 Hz","r":22,"v":118},{"s":"250 Hz","r":24,"v":120},{"s":"250 Hz","r":26,"v":117.5},{"s":"250 Hz","r":28,"v":119},{"s":"250 Hz","r":30,"v":116.5},{"s":"250 Hz","r":33,"v":118.5},{"s":"250 Hz","r":36,"v":115.5},{"s":"250 Hz","r":40,"v":117},{"s":"250 Hz","r":43,"v":114.5},{"s":"250 Hz","r":46,"v":116.5},{"s":"250 Hz","r":50,"v":113},{"s":"250 Hz","r":54,"v":115.5},{"s":"250 Hz","r":58,"v":111.5},{"s":"250 Hz","r":62,"v":114},{"s":"250 Hz","r":66,"v":110},{"s":"250 Hz","r":70,"v":113},{"s":"250 Hz","r":75,"v":109},{"s":"250 Hz","r":80,"v":112},{"s":"250 Hz","r":85,"v":108},{"s":"250 Hz","r":90,"v":111},{"s":"250 Hz","r":95,"v":107},{"s":"250 Hz","r":100,"v":110},{"s":"250 Hz","r":104,"v":106},{"s":"250 Hz","r":108,"v":112.5},{"s":"250 Hz","r":112,"v":105},{"s":"250 Hz","r":116,"v":109.5},{"s":"250 Hz","r":120,"v":107},{"s":"250 Hz","r":125,"v":111},{"s":"250 Hz","r":130,"v":105.5},{"s":"250 Hz","r":135,"v":109},{"s":"250 Hz","r":140,"v":106.5},{"s":"250 Hz","r":145,"v":110.5},{"s":"250 Hz","r":148,"v":107},
{"s":"250 Hz","r":19,"v":120},{"s":"250 Hz","r":21,"v":119.5},{"s":"250 Hz","r":23,"v":119},{"s":"250 Hz","r":25,"v":118.5},{"s":"250 Hz","r":27,"v":118},{"s":"250 Hz","r":29,"v":117.5},{"s":"250 Hz","r":31,"v":117.5},{"s":"250 Hz","r":34,"v":117},{"s":"250 Hz","r":38,"v":116},{"s":"250 Hz","r":41,"v":115.5},{"s":"250 Hz","r":44,"v":115},{"s":"250 Hz","r":48,"v":114.5},{"s":"250 Hz","r":52,"v":114},{"s":"250 Hz","r":56,"v":113},{"s":"250 Hz","r":60,"v":112.5},{"s":"250 Hz","r":64,"v":112},{"s":"250 Hz","r":68,"v":111.5},{"s":"250 Hz","r":72,"v":111},{"s":"250 Hz","r":77,"v":110.5},{"s":"250 Hz","r":82,"v":110},{"s":"250 Hz","r":87,"v":109.5},{"s":"250 Hz","r":92,"v":109},{"s":"250 Hz","r":97,"v":108.5},{"s":"250 Hz","r":102,"v":108},{"s":"250 Hz","r":106,"v":109},{"s":"250 Hz","r":110,"v":108},{"s":"250 Hz","r":114,"v":107},{"s":"250 Hz","r":118,"v":110},{"s":"250 Hz","r":122,"v":108.5},{"s":"250 Hz","r":128,"v":109},{"s":"250 Hz","r":132,"v":107.5},{"s":"250 Hz","r":138,"v":108},{"s":"250 Hz","r":142,"v":109},{"s":"250 Hz","r":146,"v":108.5},
{"s":"500 Hz","r":1.02,"v":124},{"s":"500 Hz","r":1.04,"v":131},{"s":"500 Hz","r":1.06,"v":127},{"s":"500 Hz","r":1.08,"v":122},{"s":"500 Hz","r":1.1,"v":129},{"s":"500 Hz","r":1.12,"v":125},{"s":"500 Hz","r":1.15,"v":132},{"s":"500 Hz","r":1.18,"v":121.5},{"s":"500 Hz","r":1.2,"v":127.5},{"s":"500 Hz","r":1.23,"v":124},{"s":"500 Hz","r":1.26,"v":130},{"s":"500 Hz","r":1.3,"v":122.5},{"s":"500 Hz","r":1.34,"v":126.5},{"s":"500 Hz","r":1.38,"v":120.5},{"s":"500 Hz","r":1.42,"v":128},{"s":"500 Hz","r":1.46,"v":123.5},{"s":"500 Hz","r":1.5,"v":126},{"s":"500 Hz","r":1.55,"v":121},{"s":"500 Hz","r":1.6,"v":129},{"s":"500 Hz","r":1.65,"v":124},{"s":"500 Hz","r":1.7,"v":127},{"s":"500 Hz","r":1.8,"v":122},{"s":"500 Hz","r":1.9,"v":126},{"s":"500 Hz","r":2.0,"v":120.5},{"s":"500 Hz","r":2.1,"v":128},{"s":"500 Hz","r":2.2,"v":123.5},{"s":"500 Hz","r":2.3,"v":125.5},{"s":"500 Hz","r":2.45,"v":121},{"s":"500 Hz","r":2.6,"v":127},{"s":"500 Hz","r":2.75,"v":122.5},{"s":"500 Hz","r":2.9,"v":125},{"s":"500 Hz","r":3.05,"v":120},{"s":"500 Hz","r":3.2,"v":124},{"s":"500 Hz","r":3.4,"v":121.5},{"s":"500 Hz","r":3.6,"v":126},{"s":"500 Hz","r":3.8,"v":119.5},{"s":"500 Hz","r":4.0,"v":123.5},{"s":"500 Hz","r":4.3,"v":120.5},{"s":"500 Hz","r":4.6,"v":124.5},{"s":"500 Hz","r":5.0,"v":119},{"s":"500 Hz","r":5.3,"v":122.5},{"s":"500 Hz","r":5.6,"v":118.5},{"s":"500 Hz","r":6.0,"v":121.5},{"s":"500 Hz","r":6.4,"v":118},{"s":"500 Hz","r":6.8,"v":122},{"s":"500 Hz","r":7.2,"v":117.5},{"s":"500 Hz","r":7.6,"v":120.5},{"s":"500 Hz","r":8.0,"v":117},{"s":"500 Hz","r":8.5,"v":120},{"s":"500 Hz","r":9.0,"v":116.5},{"s":"500 Hz","r":9.5,"v":119.5},{"s":"500 Hz","r":10,"v":117},{"s":"500 Hz","r":11,"v":119},{"s":"500 Hz","r":12,"v":115.5},{"s":"500 Hz","r":13,"v":118},{"s":"500 Hz","r":14,"v":115},{"s":"500 Hz","r":15,"v":117.5},{"s":"500 Hz","r":16,"v":114.5},{"s":"500 Hz","r":18,"v":116.5},{"s":"500 Hz","r":20,"v":114},{"s":"500 Hz","r":22,"v":116},{"s":"500 Hz","r":24,"v":113},{"s":"500 Hz","r":26,"v":115.5},{"s":"500 Hz","r":28,"v":112},{"s":"500 Hz","r":30,"v":114.5},{"s":"500 Hz","r":32,"v":111},{"s":"500 Hz","r":35,"v":113.5},{"s":"500 Hz","r":38,"v":110},{"s":"500 Hz","r":41,"v":112.5},{"s":"500 Hz","r":44,"v":109},{"s":"500 Hz","r":47,"v":111},{"s":"500 Hz","r":50,"v":108},{"s":"500 Hz","r":53,"v":110.5},{"s":"500 Hz","r":56,"v":106.5},{"s":"500 Hz","r":60,"v":109.5},{"s":"500 Hz","r":64,"v":105.5},{"s":"500 Hz","r":68,"v":108},{"s":"500 Hz","r":72,"v":104},{"s":"500 Hz","r":76,"v":107},{"s":"500 Hz","r":80,"v":103},{"s":"500 Hz","r":85,"v":106},{"s":"500 Hz","r":90,"v":102},{"s":"500 Hz","r":95,"v":105},{"s":"500 Hz","r":100,"v":101.5},{"s":"500 Hz","r":104,"v":104.5},{"s":"500 Hz","r":108,"v":100.5},{"s":"500 Hz","r":112,"v":103.5},{"s":"500 Hz","r":116,"v":100},{"s":"500 Hz","r":120,"v":104},{"s":"500 Hz","r":125,"v":101},{"s":"500 Hz","r":130,"v":106},{"s":"500 Hz","r":135,"v":102},{"s":"500 Hz","r":140,"v":105},{"s":"500 Hz","r":145,"v":100.5},{"s":"500 Hz","r":148,"v":103},
{"s":"500 Hz","r":19,"v":115},{"s":"500 Hz","r":21,"v":115},{"s":"500 Hz","r":23,"v":114.5},{"s":"500 Hz","r":25,"v":114},{"s":"500 Hz","r":27,"v":113.5},{"s":"500 Hz","r":29,"v":113},{"s":"500 Hz","r":31,"v":112.5},{"s":"500 Hz","r":34,"v":112},{"s":"500 Hz","r":37,"v":111.5},{"s":"500 Hz","r":40,"v":111},{"s":"500 Hz","r":43,"v":110.5},{"s":"500 Hz","r":46,"v":109.5},{"s":"500 Hz","r":49,"v":109.5},{"s":"500 Hz","r":52,"v":108.5},{"s":"500 Hz","r":55,"v":108},{"s":"500 Hz","r":58,"v":107.5},{"s":"500 Hz","r":62,"v":107},{"s":"500 Hz","r":66,"v":106.5},{"s":"500 Hz","r":70,"v":106},{"s":"500 Hz","r":74,"v":105.5},{"s":"500 Hz","r":78,"v":105},{"s":"500 Hz","r":82,"v":104.5},{"s":"500 Hz","r":87,"v":104},{"s":"500 Hz","r":92,"v":103.5},{"s":"500 Hz","r":97,"v":103},{"s":"500 Hz","r":102,"v":103},{"s":"500 Hz","r":106,"v":102.5},{"s":"500 Hz","r":110,"v":102},{"s":"500 Hz","r":114,"v":102},{"s":"500 Hz","r":118,"v":101.5},{"s":"500 Hz","r":122,"v":102.5},{"s":"500 Hz","r":128,"v":103},{"s":"500 Hz","r":132,"v":103.5},{"s":"500 Hz","r":138,"v":103},{"s":"500 Hz","r":142,"v":102.5},{"s":"500 Hz","r":146,"v":102},
{"s":"1 kHz","r":1.05,"v":123},{"s":"1 kHz","r":1.1,"v":120.5},{"s":"1 kHz","r":1.15,"v":124},{"s":"1 kHz","r":1.2,"v":121.5},{"s":"1 kHz","r":1.25,"v":118.5},{"s":"1 kHz","r":1.3,"v":122.5},{"s":"1 kHz","r":1.35,"v":119.5},{"s":"1 kHz","r":1.4,"v":123},{"s":"1 kHz","r":1.5,"v":120},{"s":"1 kHz","r":1.6,"v":122},{"s":"1 kHz","r":1.7,"v":118.5},{"s":"1 kHz","r":1.8,"v":121.5},{"s":"1 kHz","r":1.9,"v":119},{"s":"1 kHz","r":2.0,"v":121},{"s":"1 kHz","r":2.1,"v":117.5},{"s":"1 kHz","r":2.2,"v":120.5},{"s":"1 kHz","r":2.35,"v":118},{"s":"1 kHz","r":2.5,"v":120},{"s":"1 kHz","r":2.65,"v":116.5},{"s":"1 kHz","r":2.8,"v":119.5},{"s":"1 kHz","r":3.0,"v":117},{"s":"1 kHz","r":3.2,"v":119},{"s":"1 kHz","r":3.4,"v":116},{"s":"1 kHz","r":3.6,"v":118.5},{"s":"1 kHz","r":3.8,"v":115.5},{"s":"1 kHz","r":4.0,"v":118},{"s":"1 kHz","r":4.3,"v":115},{"s":"1 kHz","r":4.6,"v":117.5},{"s":"1 kHz","r":5.0,"v":119},{"s":"1 kHz","r":5.3,"v":116.5},{"s":"1 kHz","r":5.6,"v":118},{"s":"1 kHz","r":6.0,"v":115},{"s":"1 kHz","r":6.4,"v":117},{"s":"1 kHz","r":6.8,"v":114.5},{"s":"1 kHz","r":7.2,"v":116.5},{"s":"1 kHz","r":7.6,"v":113.5},{"s":"1 kHz","r":8.0,"v":116},{"s":"1 kHz","r":8.5,"v":113},{"s":"1 kHz","r":9.0,"v":115},{"s":"1 kHz","r":10,"v":112.5},{"s":"1 kHz","r":11,"v":114.5},{"s":"1 kHz","r":12,"v":112},{"s":"1 kHz","r":13,"v":113.5},{"s":"1 kHz","r":14,"v":111},{"s":"1 kHz","r":15,"v":113},{"s":"1 kHz","r":16,"v":110.5},{"s":"1 kHz","r":18,"v":112},{"s":"1 kHz","r":20,"v":109.5},{"s":"1 kHz","r":22,"v":111},{"s":"1 kHz","r":24,"v":108.5},{"s":"1 kHz","r":26,"v":110},{"s":"1 kHz","r":28,"v":107.5},{"s":"1 kHz","r":30,"v":109.5},{"s":"1 kHz","r":33,"v":106.5},{"s":"1 kHz","r":36,"v":108},{"s":"1 kHz","r":40,"v":105.5},{"s":"1 kHz","r":43,"v":107},{"s":"1 kHz","r":46,"v":103.5},{"s":"1 kHz","r":50,"v":106},{"s":"1 kHz","r":54,"v":102},{"s":"1 kHz","r":58,"v":104.5},{"s":"1 kHz","r":62,"v":100.5},{"s":"1 kHz","r":66,"v":103},{"s":"1 kHz","r":70,"v":99.5},{"s":"1 kHz","r":75,"v":102},{"s":"1 kHz","r":80,"v":98},{"s":"1 kHz","r":85,"v":101},{"s":"1 kHz","r":90,"v":96.5},{"s":"1 kHz","r":95,"v":100},{"s":"1 kHz","r":100,"v":95},{"s":"1 kHz","r":104,"v":98.5},{"s":"1 kHz","r":108,"v":93},{"s":"1 kHz","r":112,"v":97},{"s":"1 kHz","r":116,"v":94},{"s":"1 kHz","r":120,"v":99.5},{"s":"1 kHz","r":125,"v":96},{"s":"1 kHz","r":130,"v":101},{"s":"1 kHz","r":135,"v":94.5},{"s":"1 kHz","r":140,"v":98},{"s":"1 kHz","r":145,"v":102.5},{"s":"1 kHz","r":148,"v":96},
{"s":"1 kHz","r":19,"v":110.5},{"s":"1 kHz","r":21,"v":110},{"s":"1 kHz","r":23,"v":109.5},{"s":"1 kHz","r":25,"v":109},{"s":"1 kHz","r":27,"v":108.5},{"s":"1 kHz","r":29,"v":108},{"s":"1 kHz","r":31,"v":107.5},{"s":"1 kHz","r":34,"v":107},{"s":"1 kHz","r":38,"v":106},{"s":"1 kHz","r":41,"v":106},{"s":"1 kHz","r":45,"v":105},{"s":"1 kHz","r":48,"v":104.5},{"s":"1 kHz","r":52,"v":104},{"s":"1 kHz","r":56,"v":103},{"s":"1 kHz","r":60,"v":102.5},{"s":"1 kHz","r":64,"v":101.5},{"s":"1 kHz","r":68,"v":101},{"s":"1 kHz","r":72,"v":100.5},{"s":"1 kHz","r":77,"v":100},{"s":"1 kHz","r":82,"v":99.5},{"s":"1 kHz","r":87,"v":99},{"s":"1 kHz","r":92,"v":98},{"s":"1 kHz","r":97,"v":97.5},{"s":"1 kHz","r":102,"v":97},{"s":"1 kHz","r":106,"v":96.5},{"s":"1 kHz","r":110,"v":97},{"s":"1 kHz","r":114,"v":95.5},{"s":"1 kHz","r":118,"v":97.5},{"s":"1 kHz","r":122,"v":97},{"s":"1 kHz","r":127,"v":98.5},{"s":"1 kHz","r":132,"v":97.5},{"s":"1 kHz","r":138,"v":96.5},{"s":"1 kHz","r":142,"v":99.5},{"s":"1 kHz","r":146,"v":98.5},
{"s":"2 kHz","r":1.05,"v":117},{"s":"2 kHz","r":1.1,"v":119.5},{"s":"2 kHz","r":1.15,"v":115.5},{"s":"2 kHz","r":1.2,"v":118},{"s":"2 kHz","r":1.25,"v":116},{"s":"2 kHz","r":1.3,"v":119},{"s":"2 kHz","r":1.4,"v":114.5},{"s":"2 kHz","r":1.5,"v":117},{"s":"2 kHz","r":1.6,"v":115},{"s":"2 kHz","r":1.7,"v":117.5},{"s":"2 kHz","r":1.8,"v":113.5},{"s":"2 kHz","r":1.9,"v":116},{"s":"2 kHz","r":2.0,"v":114},{"s":"2 kHz","r":2.15,"v":116.5},{"s":"2 kHz","r":2.3,"v":112.5},{"s":"2 kHz","r":2.45,"v":115},{"s":"2 kHz","r":2.6,"v":113},{"s":"2 kHz","r":2.8,"v":115.5},{"s":"2 kHz","r":3.0,"v":111.5},{"s":"2 kHz","r":3.2,"v":114},{"s":"2 kHz","r":3.4,"v":112},{"s":"2 kHz","r":3.55,"v":98},{"s":"2 kHz","r":3.6,"v":114.5},{"s":"2 kHz","r":3.8,"v":110.5},{"s":"2 kHz","r":4.0,"v":113},{"s":"2 kHz","r":4.3,"v":111},{"s":"2 kHz","r":4.6,"v":114},{"s":"2 kHz","r":5.0,"v":112},{"s":"2 kHz","r":5.4,"v":110},{"s":"2 kHz","r":5.8,"v":112.5},{"s":"2 kHz","r":6.2,"v":109},{"s":"2 kHz","r":6.6,"v":111.5},{"s":"2 kHz","r":7.0,"v":108.5},{"s":"2 kHz","r":7.5,"v":111},{"s":"2 kHz","r":8.0,"v":108},{"s":"2 kHz","r":8.5,"v":110},{"s":"2 kHz","r":9.0,"v":107},{"s":"2 kHz","r":10,"v":109},{"s":"2 kHz","r":11,"v":106.5},{"s":"2 kHz","r":12,"v":108.5},{"s":"2 kHz","r":13,"v":105.5},{"s":"2 kHz","r":14,"v":107.5},{"s":"2 kHz","r":15,"v":105},{"s":"2 kHz","r":16,"v":106.5},{"s":"2 kHz","r":18,"v":104},{"s":"2 kHz","r":20,"v":105.5},{"s":"2 kHz","r":22,"v":102.5},{"s":"2 kHz","r":24,"v":104},{"s":"2 kHz","r":26,"v":101.5},{"s":"2 kHz","r":28,"v":103},{"s":"2 kHz","r":30,"v":100.5},{"s":"2 kHz","r":33,"v":102},{"s":"2 kHz","r":35,"v":97.5},{"s":"2 kHz","r":36,"v":99.5},{"s":"2 kHz","r":40,"v":101},{"s":"2 kHz","r":43,"v":98.5},{"s":"2 kHz","r":45,"v":97.4},{"s":"2 kHz","r":46,"v":100},{"s":"2 kHz","r":50,"v":97.5},{"s":"2 kHz","r":54,"v":99},{"s":"2 kHz","r":55,"v":97.4},{"s":"2 kHz","r":58,"v":96},{"s":"2 kHz","r":62,"v":98},{"s":"2 kHz","r":65,"v":97.3},{"s":"2 kHz","r":66,"v":95},{"s":"2 kHz","r":70,"v":97.5},{"s":"2 kHz","r":75,"v":94},{"s":"2 kHz","r":78,"v":97.4},{"s":"2 kHz","r":80,"v":97},{"s":"2 kHz","r":85,"v":93.5},{"s":"2 kHz","r":88,"v":97.3},{"s":"2 kHz","r":90,"v":96},{"s":"2 kHz","r":95,"v":92.5},{"s":"2 kHz","r":100,"v":95},{"s":"2 kHz","r":104,"v":91.5},{"s":"2 kHz","r":108,"v":94},{"s":"2 kHz","r":112,"v":92.5},{"s":"2 kHz","r":116,"v":96.5},{"s":"2 kHz","r":120,"v":93},{"s":"2 kHz","r":125,"v":97.5},{"s":"2 kHz","r":130,"v":94},{"s":"2 kHz","r":135,"v":98},{"s":"2 kHz","r":140,"v":95.5},{"s":"2 kHz","r":145,"v":99},{"s":"2 kHz","r":148,"v":96.5},
{"s":"2 kHz","r":19,"v":104.5},{"s":"2 kHz","r":21,"v":104},{"s":"2 kHz","r":23,"v":103},{"s":"2 kHz","r":25,"v":102.5},{"s":"2 kHz","r":27,"v":102},{"s":"2 kHz","r":29,"v":101.5},{"s":"2 kHz","r":31,"v":101},{"s":"2 kHz","r":34,"v":100.5},{"s":"2 kHz","r":38,"v":100},{"s":"2 kHz","r":42,"v":99.5},{"s":"2 kHz","r":48,"v":98.5},{"s":"2 kHz","r":52,"v":98},{"s":"2 kHz","r":57,"v":97.5},{"s":"2 kHz","r":60,"v":97},{"s":"2 kHz","r":64,"v":96.5},{"s":"2 kHz","r":68,"v":96.5},{"s":"2 kHz","r":72,"v":96},{"s":"2 kHz","r":77,"v":95.5},{"s":"2 kHz","r":82,"v":95},{"s":"2 kHz","r":87,"v":95},{"s":"2 kHz","r":92,"v":94.5},{"s":"2 kHz","r":98,"v":94},{"s":"2 kHz","r":102,"v":93.5},{"s":"2 kHz","r":106,"v":93.5},{"s":"2 kHz","r":110,"v":93},{"s":"2 kHz","r":114,"v":94.5},{"s":"2 kHz","r":118,"v":95},{"s":"2 kHz","r":122,"v":95.5},{"s":"2 kHz","r":128,"v":96},{"s":"2 kHz","r":132,"v":96.5},{"s":"2 kHz","r":138,"v":97},{"s":"2 kHz","r":142,"v":97.5},{"s":"2 kHz","r":146,"v":97},
{"s":"4 kHz","r":1.1,"v":121},{"s":"4 kHz","r":1.15,"v":123},{"s":"4 kHz","r":1.2,"v":120},{"s":"4 kHz","r":1.25,"v":122.5},{"s":"4 kHz","r":1.3,"v":119},{"s":"4 kHz","r":1.4,"v":117},{"s":"4 kHz","r":1.5,"v":119.5},{"s":"4 kHz","r":1.6,"v":115.5},{"s":"4 kHz","r":1.7,"v":118},{"s":"4 kHz","r":1.8,"v":114.5},{"s":"4 kHz","r":1.9,"v":116.5},{"s":"4 kHz","r":2.0,"v":113.5},{"s":"4 kHz","r":2.15,"v":116},{"s":"4 kHz","r":2.3,"v":112.5},{"s":"4 kHz","r":2.45,"v":115},{"s":"4 kHz","r":2.6,"v":111.5},{"s":"4 kHz","r":2.8,"v":114},{"s":"4 kHz","r":3.0,"v":110.5},{"s":"4 kHz","r":3.2,"v":113},{"s":"4 kHz","r":3.4,"v":109.5},{"s":"4 kHz","r":3.6,"v":112},{"s":"4 kHz","r":3.8,"v":108.5},{"s":"4 kHz","r":4.0,"v":111},{"s":"4 kHz","r":4.3,"v":107.5},{"s":"4 kHz","r":4.6,"v":110.5},{"s":"4 kHz","r":5.0,"v":108},{"s":"4 kHz","r":5.4,"v":111},{"s":"4 kHz","r":5.8,"v":106.5},{"s":"4 kHz","r":6.2,"v":109},{"s":"4 kHz","r":6.6,"v":105.5},{"s":"4 kHz","r":7.0,"v":108},{"s":"4 kHz","r":7.5,"v":104.5},{"s":"4 kHz","r":8.0,"v":107},{"s":"4 kHz","r":8.5,"v":103.5},{"s":"4 kHz","r":9.0,"v":106},{"s":"4 kHz","r":10,"v":102.5},{"s":"4 kHz","r":11,"v":105},{"s":"4 kHz","r":12,"v":101.5},{"s":"4 kHz","r":13,"v":104},{"s":"4 kHz","r":14,"v":100.5},{"s":"4 kHz","r":15,"v":103},{"s":"4 kHz","r":16,"v":99.5},{"s":"4 kHz","r":18,"v":101.5},{"s":"4 kHz","r":20,"v":98},{"s":"4 kHz","r":22,"v":100},{"s":"4 kHz","r":24,"v":96.5},{"s":"4 kHz","r":26,"v":98.5},{"s":"4 kHz","r":28,"v":95.5},{"s":"4 kHz","r":30,"v":97},{"s":"4 kHz","r":33,"v":94.5},{"s":"4 kHz","r":36,"v":96},{"s":"4 kHz","r":40,"v":93.5},{"s":"4 kHz","r":44,"v":95.5},{"s":"4 kHz","r":48,"v":92.5},{"s":"4 kHz","r":52,"v":94.5},{"s":"4 kHz","r":56,"v":93},{"s":"4 kHz","r":60,"v":95},{"s":"4 kHz","r":65,"v":92.5},{"s":"4 kHz","r":70,"v":94},{"s":"4 kHz","r":75,"v":93},{"s":"4 kHz","r":80,"v":95.5},{"s":"4 kHz","r":88,"v":94},{"s":"4 kHz","r":95,"v":96.5},{"s":"4 kHz","r":100,"v":97.5},{"s":"4 kHz","r":108,"v":96},{"s":"4 kHz","r":115,"v":98},{"s":"4 kHz","r":125,"v":97},{"s":"4 kHz","r":135,"v":98.5},{"s":"4 kHz","r":145,"v":96.5},
{"s":"4 kHz","r":19,"v":99.5},{"s":"4 kHz","r":21,"v":99},{"s":"4 kHz","r":23,"v":98},{"s":"4 kHz","r":25,"v":97.5},{"s":"4 kHz","r":27,"v":97},{"s":"4 kHz","r":29,"v":96.5},{"s":"4 kHz","r":31,"v":96},{"s":"4 kHz","r":35,"v":95},{"s":"4 kHz","r":38,"v":95},{"s":"4 kHz","r":42,"v":94.5},{"s":"4 kHz","r":46,"v":94},{"s":"4 kHz","r":50,"v":93.5},{"s":"4 kHz","r":54,"v":94},{"s":"4 kHz","r":58,"v":93.5},{"s":"4 kHz","r":63,"v":94},{"s":"4 kHz","r":68,"v":93},{"s":"4 kHz","r":73,"v":94.5},{"s":"4 kHz","r":78,"v":94},{"s":"4 kHz","r":84,"v":95},{"s":"4 kHz","r":92,"v":95.5},{"s":"4 kHz","r":98,"v":96.5},{"s":"4 kHz","r":104,"v":97},{"s":"4 kHz","r":112,"v":97},{"s":"4 kHz","r":120,"v":97.5},{"s":"4 kHz","r":130,"v":97.5},{"s":"4 kHz","r":140,"v":97.5},
{"s":"8 kHz","r":1.02,"v":121},{"s":"8 kHz","r":1.05,"v":118},{"s":"8 kHz","r":1.08,"v":122},{"s":"8 kHz","r":1.12,"v":119},{"s":"8 kHz","r":1.15,"v":120.5},{"s":"8 kHz","r":1.2,"v":117.5},{"s":"8 kHz","r":1.3,"v":118.5},{"s":"8 kHz","r":1.5,"v":116},{"s":"8 kHz","r":1.7,"v":114.5},{"s":"8 kHz","r":1.9,"v":115.5},{"s":"8 kHz","r":2.1,"v":113},{"s":"8 kHz","r":2.3,"v":115},{"s":"8 kHz","r":2.5,"v":111.5},{"s":"8 kHz","r":2.7,"v":113.5},{"s":"8 kHz","r":2.9,"v":110},{"s":"8 kHz","r":3.1,"v":112.5},{"s":"8 kHz","r":3.3,"v":108.5},{"s":"8 kHz","r":3.5,"v":111},{"s":"8 kHz","r":3.55,"v":94.3},{"s":"8 kHz","r":3.8,"v":107.5},{"s":"8 kHz","r":4.0,"v":110},{"s":"8 kHz","r":4.3,"v":106.5},{"s":"8 kHz","r":4.6,"v":108.5},{"s":"8 kHz","r":5.0,"v":105},{"s":"8 kHz","r":5.4,"v":107.5},{"s":"8 kHz","r":5.8,"v":103.5},{"s":"8 kHz","r":6.2,"v":106},{"s":"8 kHz","r":6.6,"v":102.5},{"s":"8 kHz","r":7.0,"v":104.5},{"s":"8 kHz","r":7.5,"v":100.5},{"s":"8 kHz","r":8.0,"v":103},{"s":"8 kHz","r":8.5,"v":99.5},{"s":"8 kHz","r":9.0,"v":102},{"s":"8 kHz","r":10,"v":98.5},{"s":"8 kHz","r":11,"v":100.5},{"s":"8 kHz","r":12,"v":97},{"s":"8 kHz","r":13,"v":99},{"s":"8 kHz","r":14,"v":96},{"s":"8 kHz","r":15,"v":98},{"s":"8 kHz","r":16,"v":95},{"s":"8 kHz","r":17,"v":97},{"s":"8 kHz","r":18,"v":94},{"s":"8 kHz","r":20,"v":95.5},{"s":"8 kHz","r":22,"v":93.5},{"s":"8 kHz","r":24,"v":95},{"s":"8 kHz","r":26,"v":93},{"s":"8 kHz","r":28,"v":94.5},{"s":"8 kHz","r":30,"v":92.5},{"s":"8 kHz","r":33,"v":94},{"s":"8 kHz","r":36,"v":93},{"s":"8 kHz","r":40,"v":95},{"s":"8 kHz","r":45,"v":92},{"s":"8 kHz","r":50,"v":93.5},{"s":"8 kHz","r":55,"v":96},{"s":"8 kHz","r":60,"v":94},{"s":"8 kHz","r":70,"v":95.5},{"s":"8 kHz","r":80,"v":96},{"s":"8 kHz","r":90,"v":97},{"s":"8 kHz","r":100,"v":96.5},{"s":"8 kHz","r":110,"v":98},{"s":"8 kHz","r":120,"v":97},{"s":"8 kHz","r":130,"v":98.5},{"s":"8 kHz","r":140,"v":97.5},{"s":"8 kHz","r":148,"v":98},
{"s":"8 kHz","r":10.5,"v":96.5},{"s":"8 kHz","r":12.5,"v":95.5},{"s":"8 kHz","r":14.5,"v":94.5},{"s":"8 kHz","r":16.5,"v":94},{"s":"8 kHz","r":19,"v":93.5},{"s":"8 kHz","r":21,"v":93},{"s":"8 kHz","r":23,"v":92.5},{"s":"8 kHz","r":25,"v":92.5},{"s":"8 kHz","r":43,"v":93},{"s":"8 kHz","r":48,"v":93},{"s":"8 kHz","r":65,"v":95},{"s":"8 kHz","r":75,"v":95.5},{"s":"8 kHz","r":85,"v":96.5},{"s":"8 kHz","r":95,"v":97},{"s":"8 kHz","r":105,"v":97},{"s":"8 kHz","r":115,"v":97.5},{"s":"8 kHz","r":125,"v":98},{"s":"8 kHz","r":135,"v":98},{"s":"8 kHz","r":145,"v":98.5},
{"s":"16 kHz","r":1.01,"v":126},{"s":"16 kHz","r":1.02,"v":121},{"s":"16 kHz","r":1.03,"v":124.5},{"s":"16 kHz","r":1.05,"v":119.5},{"s":"16 kHz","r":1.07,"v":122.5},{"s":"16 kHz","r":1.1,"v":117.5},{"s":"16 kHz","r":1.12,"v":120.5},{"s":"16 kHz","r":1.15,"v":116},{"s":"16 kHz","r":1.2,"v":118.5},{"s":"16 kHz","r":1.25,"v":114.5},{"s":"16 kHz","r":1.3,"v":117},{"s":"16 kHz","r":1.35,"v":113},{"s":"16 kHz","r":1.4,"v":115.5},{"s":"16 kHz","r":1.45,"v":111.5},{"s":"16 kHz","r":1.5,"v":114},{"s":"16 kHz","r":1.6,"v":110.5},{"s":"16 kHz","r":1.7,"v":112.5},{"s":"16 kHz","r":1.8,"v":109},{"s":"16 kHz","r":1.9,"v":111},{"s":"16 kHz","r":2.0,"v":108},{"s":"16 kHz","r":2.1,"v":110},{"s":"16 kHz","r":2.2,"v":107},{"s":"16 kHz","r":2.3,"v":108.5},{"s":"16 kHz","r":2.4,"v":105.5},{"s":"16 kHz","r":2.5,"v":107.5},{"s":"16 kHz","r":2.65,"v":104.5},{"s":"16 kHz","r":2.8,"v":106.5},{"s":"16 kHz","r":3.0,"v":103.5},{"s":"16 kHz","r":3.2,"v":105.5},{"s":"16 kHz","r":3.4,"v":103},{"s":"16 kHz","r":3.6,"v":104.5},{"s":"16 kHz","r":3.8,"v":102},{"s":"16 kHz","r":4.0,"v":103.5},{"s":"16 kHz","r":4.3,"v":101},{"s":"16 kHz","r":4.6,"v":102.5},{"s":"16 kHz","r":5.0,"v":100.5},{"s":"16 kHz","r":5.4,"v":101.5},{"s":"16 kHz","r":5.8,"v":99.5},{"s":"16 kHz","r":6.2,"v":100.5},{"s":"16 kHz","r":6.6,"v":99},{"s":"16 kHz","r":7.0,"v":100},{"s":"16 kHz","r":7.5,"v":98.5},{"s":"16 kHz","r":8.0,"v":99.5},{"s":"16 kHz","r":8.5,"v":98},{"s":"16 kHz","r":9.0,"v":99},{"s":"16 kHz","r":10,"v":97.5},{"s":"16 kHz","r":11,"v":98.5},{"s":"16 kHz","r":12,"v":97.5},{"s":"16 kHz","r":13,"v":98},{"s":"16 kHz","r":14,"v":97},{"s":"16 kHz","r":15,"v":97.8},{"s":"16 kHz","r":16,"v":97.2},{"s":"16 kHz","r":18,"v":97.6},{"s":"16 kHz","r":20,"v":97},{"s":"16 kHz","r":22,"v":97.5},{"s":"16 kHz","r":24,"v":96.8},{"s":"16 kHz","r":26,"v":97.3},{"s":"16 kHz","r":28,"v":96.7},{"s":"16 kHz","r":30,"v":97.2},{"s":"16 kHz","r":32,"v":96.5},{"s":"16 kHz","r":35,"v":97},{"s":"16 kHz","r":120,"v":95},{"s":"16 kHz","r":135,"v":94},{"s":"16 kHz","r":148,"v":95.5},
{"s":"16 kHz","r":3.1,"v":104.5},{"s":"16 kHz","r":3.5,"v":103.5},{"s":"16 kHz","r":3.9,"v":103},{"s":"16 kHz","r":4.45,"v":102},{"s":"16 kHz","r":5.2,"v":101},{"s":"16 kHz","r":6.0,"v":100},{"s":"16 kHz","r":6.8,"v":99.5},{"s":"16 kHz","r":7.25,"v":99},{"s":"16 kHz","r":8.2,"v":98.5},{"s":"16 kHz","r":9.5,"v":98},{"s":"16 kHz","r":10.5,"v":97.8},{"s":"16 kHz","r":11.5,"v":97.6},{"s":"16 kHz","r":12.5,"v":97.5},{"s":"16 kHz","r":13.5,"v":97.4},{"s":"16 kHz","r":17,"v":97.3},{"s":"16 kHz","r":19,"v":97.2},{"s":"16 kHz","r":21,"v":97.1},{"s":"16 kHz","r":23,"v":97},{"s":"16 kHz","r":25,"v":97},{"s":"16 kHz","r":27,"v":96.9}
]},
"mark":{"type":"point","filled":true,"shape":"circle","size":14,"opacity":1,"clip":true},
"encoding":{
"x":{"field":"r","type":"quantitative","scale":{"type":"log","domain":[1,148],"nice":false},
"axis":{"title":"Range (km)","values":[1,2,3,4,5,6,7,8,9,10,20,30,40,50,60,70,80,90,100],"labelExpr":"datum.value==1||datum.value==10||datum.value==100 ? datum.label : ''","labelOverlap":false,"labelFlush":false,"ticks":false,"labelFontSize":20,"labelColor":"#262626","labelPadding":9,"titleFontSize":20,"titleFontWeight":"normal","titleColor":"#262626","titlePadding":0,"grid":true,"gridColor":"#e4e4e4","domainColor":"#8a8a8a","domainWidth":1.2}},
"y":{"field":"v","type":"quantitative","scale":{"domain":[90,190],"nice":false,"zero":false},
"axis":{"title":"1-minute SPL (dB re 1 µPa)","values":[100,120,140,160,180],"ticks":false,"labelFontSize":20,"labelColor":"#262626","labelPadding":7,"titleFontSize":20,"titleFontWeight":"normal","titleColor":"#262626","titlePadding":2,"grid":true,"gridColor":"#e4e4e4","domainColor":"#8a8a8a","domainWidth":1.2}},
"color":{"field":"s","type":"nominal",
"scale":{"domain":["Peak","Broadband","16 Hz","31.5 Hz","63 Hz","125 Hz","250 Hz","500 Hz","1 kHz","2 kHz","4 kHz","8 kHz","16 kHz"],
"range":["#12a312","#000000","#aca200","#00ffff","#ff00ff","#5c0000","#aa0000","#ff0000","#006000","#00ff00","#00005c","#0000aa","#12a312"]},
"legend":{"title":null,"orient":"none","legendX":457,"legendY":28,"labelFontSize":19,"labelColor":"#000000","symbolType":"circle","symbolSize":55,"symbolStrokeWidth":0,"rowPadding":3.4,"labelOffset":6,"padding":0,"symbolOpacity":1}}
}
}
